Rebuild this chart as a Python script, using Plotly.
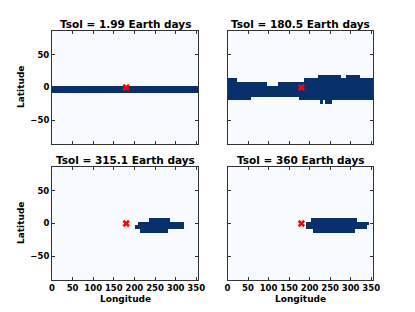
import plotly.graph_objects as go

TITLES = ["Tsol = 1.99 Earth days", "Tsol = 180.5 Earth days",
          "Tsol = 315.1 Earth days", "Tsol = 360 Earth days"]
X_LABEL = "Longitude"
Y_LABEL = "Latitude"
X_TICKS = [0, 50, 100, 150, 200, 250, 300, 350]
Y_TICKS = [-50, 0, 50]
SUBSOLAR_LON = [180]
SUBSOLAR_LAT = [0]
DLON = 5.625
DLAT = 5.54
N_LON = 63
N_LAT_HALF = 15

# cloud-deck outline per panel: (first column, end column, latitude row)
P1_TOP = [(0, 63, 0)]
P1_BOT = [(0, 63, -1)]
P2_TOP = [(0, 4, 2), (4, 17, 1), (17, 22, 0), (22, 33, 1), (33, 39, 2), (39, 49, 3),
          (49, 51, 2), (51, 57, 3), (57, 63, 2)]
P2_BOT = [(0, 10, -3), (10, 31, -2), (31, 40, -3), (40, 41, -4), (41, 42, -3),
          (42, 45, -4), (45, 63, -3)]
P3_TOP = [(36, 37, -1), (37, 42, 0), (42, 51, 1), (51, 57, 0)]
P3_BOT = [(36, 38, -1), (38, 50, -2), (50, 57, -1)]
P4_TOP = [(34, 36, 0), (36, 56, 1), (56, 61, 0)]
P4_BOT = [(34, 37, -1), (37, 55, -2), (55, 60, -1), (60, 61, 0)]
OUTLINES = [(P1_TOP, P1_BOT), (P2_TOP, P2_BOT), (P3_TOP, P3_BOT), (P4_TOP, P4_BOT)]

lon_edges = [i * DLON for i in range(N_LON + 1)]
lat_edges = [(k - 0.5) * DLAT for k in range(-N_LAT_HALF, N_LAT_HALF + 2)]


def grid(top, bot):
    tops, bots = {}, {}
    for a, b, r in top:
        for c in range(a, b):
            tops[c] = r
    for a, b, r in bot:
        for c in range(a, b):
            bots[c] = r
    z = [[0.0] * N_LON for _ in range(2 * N_LAT_HALF + 1)]
    for c in tops:
        for r in range(bots[c], tops[c] + 1):
            z[r + N_LAT_HALF][c] = 1.0
    return z


# the page body adds an 8 px margin around the figure
W, H = 399, 296
X_DOM = [(44, 190), (219.5, 365), (44, 190), (219.5, 365)]
Y_DOM = [(23, 136), (23, 136), (159, 272), (159, 272)]

fig = go.Figure()
font = dict(family="DejaVu Sans", size=8.5, color="black", weight=700)
label_font = dict(family="DejaVu Sans", size=9, color="black", weight=700)
for i in range(4):
    ax = "" if i == 0 else str(i + 1)
    fig.add_trace(go.Heatmap(x=lon_edges, y=lat_edges, z=grid(*OUTLINES[i]), zmin=0, zmax=1,
                             colorscale=[[0, "#f7fbff"], [1, "#08306b"]], showscale=False,
                             hoverinfo="skip", xaxis="x" + ax, yaxis="y" + ax))
    fig.add_trace(go.Scatter(x=SUBSOLAR_LON, y=SUBSOLAR_LAT, mode="markers",
                             marker=dict(symbol="x", size=6.5, color="red", line=dict(width=0)),
                             showlegend=False, hoverinfo="skip",
                             xaxis="x" + ax, yaxis="y" + ax))
    common = dict(showgrid=False, zeroline=False, showline=True, linecolor="#333333", linewidth=1,
                  mirror="ticks", ticks="inside", ticklen=3, tickwidth=0.8, tickcolor="#333333",
                  tickfont=font, automargin=False)
    fig.update_layout({
        "xaxis" + ax: dict(common, domain=[X_DOM[i][0] / W, X_DOM[i][1] / W], range=[0, lon_edges[-1]],
                           anchor="y" + ax, tickvals=X_TICKS, showticklabels=i >= 2),
        "yaxis" + ax: dict(common, domain=[1 - Y_DOM[i][1] / H, 1 - Y_DOM[i][0] / H],
                           range=[lat_edges[0], lat_edges[-1]],
                           anchor="x" + ax, tickvals=Y_TICKS, showticklabels=i in (0, 2)),
    })
    fig.add_annotation(text=TITLES[i], xref="paper", yref="paper",
                       x=sum(X_DOM[i]) / 2 / W, y=1 - Y_DOM[i][0] / H, yshift=-1,
                       xanchor="center", yanchor="bottom", showarrow=False,
                       font=dict(family="DejaVu Sans", size=10.5, color="black", weight=700))
    if i >= 2:
        fig.add_annotation(text=X_LABEL, xref="paper", yref="paper",
                           x=sum(X_DOM[i]) / 2 / W, y=1 - 291 / H,
                           xanchor="center", yanchor="middle", showarrow=False, font=label_font)
    if i in (0, 2):
        fig.add_annotation(text=Y_LABEL, xref="paper", yref="paper",
                           x=12.5 / W, y=1 - sum(Y_DOM[i]) / 2 / H, textangle=-90,
                           xanchor="center", yanchor="middle", showarrow=False, font=label_font)

fig.update_layout(width=W, height=H, autosize=False, margin=dict(l=0, r=0, t=0, b=0),
                  paper_bgcolor="white", plot_bgcolor="#f7fbff", showlegend=False)
fig.write_html("out.html")
